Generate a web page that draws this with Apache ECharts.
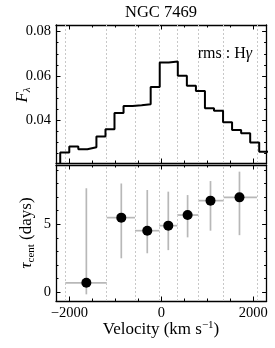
<!DOCTYPE html>
<html><head><meta charset="utf-8">
<script src="https://cdn.jsdelivr.net/npm/echarts@6/dist/echarts.min.js"></script>
<style>html,body{margin:0;padding:0;background:#fff}#c{width:275px;height:348px}</style>
</head><body><div id="c"></div>
<script>
const FONT = '"Liberation Serif", "DejaVu Serif", serif';

// Top panel: rms H-gamma profile (step histogram)
const fluxEdges = [-2395, -2198, -2001, -1805, -1608, -1411, -1214, -1018, -821, -624, -428, -231, -34, 162, 359, 556, 753, 949, 1146, 1343, 1539, 1736, 1933, 2129, 2326];
const fluxValues = [0.019, 0.0255, 0.0282, 0.0270, 0.0279, 0.0327, 0.0360, 0.0433, 0.0465, 0.0468, 0.0473, 0.0550, 0.0661, 0.0666, 0.0601, 0.0556, 0.0533, 0.0455, 0.0444, 0.0392, 0.0357, 0.0342, 0.0300, 0.0259];

// Bottom panel: velocity-resolved lags
const tauBinEdges = [-2087, -1187, -572, -43, 348, 804, 1357, 2080];
const tauVel = [-1630, -870, -305, 152, 572, 1070, 1700];
const tauCent = [0.7, 5.49, 4.53, 4.9, 5.68, 6.74, 6.98];
const tauLow = [-0.15, 2.5, 2.87, 3.1, 4.04, 4.53, 4.2];
const tauHigh = [7.65, 8.0, 7.52, 7.4, 7.15, 8.18, 8.87];

// Ticks
const xMajor = [-2000, 0, 2000];
const xMinor = [-1500, -1000, -500, 500, 1000, 1500];
const fluxMajor = [0.04, 0.06, 0.08];
const fluxMinor = [0.025, 0.03, 0.035, 0.045, 0.05, 0.055, 0.065, 0.07, 0.075];
const tauMajor = [0, 5];
const tauMinor = [1, 2, 3, 4, 6, 7, 8, 9];

const X_MIN = -2290, X_MAX = 2290;
const F_MIN = 0.0208, F_MAX = 0.083;
const T_MIN = -0.64, T_MAX = 9.36;

function axisSet(dim, grid, min, max, majors, minors, fmt) {
  const sides = dim === 'x' ? ['bottom', 'top'] : ['left', 'right'];
  const arr = [];
  sides.forEach((pos, si) => {
    [majors, minors].forEach((vals, mi) => {
      arr.push({
        type: 'value', gridIndex: grid, position: pos, min: min, max: max, offset: 0,
        axisLine: { show: mi === 0, onZero: false, lineStyle: { color: '#000', width: 1.3 } },
        axisTick: { show: true, inside: true, length: mi === 0 ? 4.5 : 2.5, customValues: vals, lineStyle: { color: '#000', width: 1 } },
        axisLabel: { show: si === 0 && mi === 0 && !!fmt, customValues: majors, formatter: fmt || undefined,
          fontFamily: FONT, fontSize: 14.5, color: '#000', margin: 5 },
        splitLine: { show: false }
      });
    });
  });
  return arr;
}
const xFmt = v => (v < 0 ? '\u2212' + Math.abs(v) : String(v));

const xAxes = axisSet('x', 0, X_MIN, X_MAX, xMajor, xMinor, null)
  .concat(axisSet('x', 1, X_MIN, X_MAX, xMajor, xMinor, xFmt));
const yAxes = axisSet('y', 0, F_MIN, F_MAX, fluxMajor, fluxMinor, v => v.toFixed(2))
  .concat(axisSet('y', 1, T_MIN, T_MAX, tauMajor, tauMinor, v => String(v)));

const histData = [];
fluxValues.forEach((v, i) => { histData.push([fluxEdges[i], v]); histData.push([fluxEdges[i + 1], v]); });

const errData = tauVel.map((v, i) => [v, tauCent[i], tauBinEdges[i], tauBinEdges[i + 1], tauLow[i], tauHigh[i]]);

const dashLine = (xi, yi) => ({
  type: 'line', xAxisIndex: xi, yAxisIndex: yi, data: [], silent: true, z: 1,
  markLine: { silent: true, symbol: ['none', 'none'], label: { show: false }, animation: false,
    lineStyle: { type: [2, 2], color: '#c8c8c8', width: 1 },
    data: tauBinEdges.map(v => ({ xAxis: v })) }
});

// text helpers
const cv = document.createElement('canvas').getContext('2d');
function fontStr(s) { return (s.it ? 'italic ' : '') + s.s + 'px ' + FONT; }
function textRow(segs, x, y, align, rotation) {
  let W = 0;
  const ws = segs.map(s => { cv.font = fontStr(s); const w = cv.measureText(s.t).width; W += w; return w; });
  let cx = align === 'center' ? -W / 2 : (align === 'right' ? -W : 0);
  const children = segs.map((s, i) => {
    const el = { type: 'text', x: cx, y: s.dy || 0,
      style: { text: s.t, font: fontStr(s), fill: '#000', align: 'left', verticalAlign: 'middle' } };
    cx += ws[i];
    return el;
  });
  return { type: 'group', x: x, y: y, rotation: rotation || 0, children: children };
}

const option = {
  animation: false,
  backgroundColor: '#fff',
  grid: [
    { left: 56, top: 25, width: 210.6, height: 138 },
    { left: 56, top: 165, width: 210.6, height: 136 }
  ],
  xAxis: xAxes,
  yAxis: yAxes,
  series: [
    dashLine(0, 0),
    dashLine(4, 4),
    { type: 'line', xAxisIndex: 0, yAxisIndex: 0, data: histData, showSymbol: false, z: 5,
      lineStyle: { color: '#000', width: 2 }, clip: true },
    { type: 'custom', xAxisIndex: 4, yAxisIndex: 4, data: errData, z: 3, clip: true,
      encode: { x: 0, y: 1 },
      renderItem: function (params, api) {
        const l = api.coord([api.value(2), api.value(1)]);
        const r = api.coord([api.value(3), api.value(1)]);
        const t = api.coord([api.value(0), api.value(5)]);
        const b = api.coord([api.value(0), api.value(4)]);
        const st = { stroke: '#b8b8b8', lineWidth: 1.7 };
        return { type: 'group', children: [
          { type: 'line', shape: { x1: l[0], y1: l[1], x2: r[0], y2: r[1] }, style: st },
          { type: 'line', shape: { x1: t[0], y1: t[1], x2: b[0], y2: b[1] }, style: st }
        ] };
      } },
    { type: 'scatter', xAxisIndex: 4, yAxisIndex: 4, z: 6, symbol: 'circle', symbolSize: 10,
      itemStyle: { color: '#000', opacity: 1 }, data: tauVel.map((v, i) => [v, tauCent[i]]) }
  ],
  graphic: [
    textRow([{ t: 'NGC 7469', s: 16.5 }], 161, 13, 'center'),
    textRow([{ t: 'rms : H', s: 16 }, { t: '\u03b3', s: 16, it: true }], 252, 54, 'right'),
    textRow([{ t: 'F', s: 17, it: true }, { t: '\u03bb', s: 11, it: true, dy: 4 }], 23, 95, 'center', Math.PI / 2),
    textRow([{ t: '\u03c4', s: 17, it: true }, { t: 'cent', s: 11, dy: 4 }, { t: ' (days)', s: 17 }], 27, 233, 'center', Math.PI / 2),
    textRow([{ t: 'Velocity (km s', s: 17 }, { t: '\u22121', s: 11, dy: -5 }, { t: ')', s: 17 }], 161, 330, 'center')
  ]
};
const chart = echarts.init(document.getElementById('c'), null, { renderer: 'canvas' });
chart.setOption(option);
</script></body></html>
